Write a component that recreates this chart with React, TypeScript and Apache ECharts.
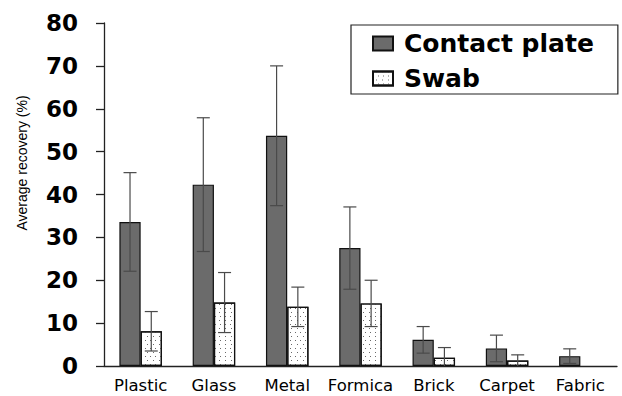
import React, { useEffect, useRef } from "react";
import * as echarts from "echarts";

const categories = ["Plastic", "Glass", "Metal", "Formica", "Brick", "Carpet", "Fabric"];
const contactMeans = [33.6, 42.3, 53.7, 27.5, 6.1, 4.1, 2.3];
const contactSD = [11.5, 15.6, 16.3, 9.6, 3.1, 3.1, 1.7];
const swabMeans: (number | null)[] = [8.1, 14.8, 13.8, 14.6, 1.9, 1.3, null];
const swabSD = [4.6, 7.0, 4.6, 5.4, 2.4, 1.3, 0];
const yTicks = [0, 10, 20, 30, 40, 50, 60, 70, 80];

const BAR_FRAC = 0.29;

function errData(means: (number | null)[], sds: number[]) {
  return means.map((m, i) => {
    const v = m ?? 0;
    return [i, Math.max(0, v - sds[i]), v + sds[i], sds[i]];
  });
}

function makeErrRender(side: number) {
  return (params: any, api: any) => {
    const idx = api.value(0);
    const lo = api.value(1);
    const hi = api.value(2);
    const sd = api.value(3);
    if (!sd) return null;
    const band = api.size([1, 0])[0];
    const bw = band * BAR_FRAC;
    const pHi = api.coord([idx, hi]);
    const pLo = api.coord([idx, lo]);
    const x = pHi[0] + side * bw / 2;
    const cap = 6.5;
    const style = { stroke: "#4a4a4a", lineWidth: 1.2 };
    const children: any[] = [
      { type: "line", shape: { x1: x, y1: pHi[1], x2: x, y2: pLo[1] }, style },
      { type: "line", shape: { x1: x - cap, y1: pHi[1], x2: x + cap, y2: pHi[1] }, style },
    ];
    if (lo > 0.3) {
      children.push({ type: "line", shape: { x1: x - cap, y1: pLo[1], x2: x + cap, y2: pLo[1] }, style });
    }
    return { type: "group", children };
  };
}

export default function App() {
  const ref = useRef<HTMLDivElement>(null);
  useEffect(() => {
    if (!ref.current) return;
    const chart = echarts.init(ref.current, null, { renderer: "svg" });
    const swabDecal = {
      symbol: "rect",
      symbolSize: 1,
      color: "#6a6a6a",
      backgroundColor: "#ffffff",
      dashArrayX: [[1, 4], [0, 2.5, 1, 1.5]],
      dashArrayY: [1, 3],
      rotation: 0,
    };
    chart.setOption({
      animation: false,
      backgroundColor: "#fff",
      grid: { left: 104, right: 5, top: 23, bottom: 30, containLabel: false },
      legend: {
        orient: "vertical",
        left: 351,
        top: 25,
        padding: [6, 24, 3, 21],
        itemGap: 10,
        itemWidth: 20,
        itemHeight: 14,
        borderColor: "#222",
        borderWidth: 1.2,
        borderRadius: 0,
        textStyle: {
          fontFamily: "DejaVu Sans",
          fontWeight: "bold",
          fontSize: 25,
          color: "#000",
          padding: [0, 0, 0, 6],
        },
        data: [
          { name: "Contact plate", icon: "rect" },
          { name: "Swab", icon: "rect" },
        ],
      },
      xAxis: {
        type: "category",
        data: categories,
        axisLine: { lineStyle: { color: "#222", width: 1.3 } },
        axisTick: { length: 5, lineStyle: { color: "#222", width: 1.3 } },
        axisLabel: { interval: 0, margin: 11, fontFamily: "DejaVu Sans", fontSize: 16.5, color: "#000" },
      },
      yAxis: {
        type: "value",
        min: 0,
        max: 80,
        interval: 10,
        axisLine: { show: true, lineStyle: { color: "#222", width: 1.3 } },
        axisTick: { show: true, length: 8, lineStyle: { color: "#222", width: 1.3 } },
        splitLine: { show: false },
        axisLabel: {
          margin: 26,
          fontFamily: "DejaVu Sans",
          fontWeight: "bold",
          fontSize: 23,
          color: "#000",
          formatter: (v: number) => (yTicks.includes(v) ? String(v) : ""),
        },
      },
      graphic: [
        {
          type: "text",
          x: 22,
          y: 163,
          rotation: Math.PI / 2,
          style: {
            text: "Average recovery (%)",
            fontFamily: "Liberation Sans",
            fontSize: 14,
            fill: "#000",
            align: "center",
            verticalAlign: "middle",
          },
        },
      ],
      series: [
        {
          name: "Contact plate",
          type: "bar",
          data: contactMeans,
          barWidth: (BAR_FRAC * 100) + "%",
          barGap: "0%",
          itemStyle: { color: "#6b6b6b", borderColor: "#111", borderWidth: 1.2 },
        },
        {
          name: "Swab",
          type: "bar",
          data: swabMeans,
          barWidth: (BAR_FRAC * 100) + "%",
          barGap: "0%",
          itemStyle: { color: "#ffffff", borderColor: "#111", borderWidth: 1.2, decal: swabDecal },
        },
        {
          name: "errContact",
          type: "custom",
          renderItem: makeErrRender(-1),
          data: errData(contactMeans, contactSD),
          z: 10,
          encode: { x: 0, y: [1, 2] },
        },
        {
          name: "errSwab",
          type: "custom",
          renderItem: makeErrRender(1),
          data: errData(swabMeans, swabSD),
          z: 10,
          encode: { x: 0, y: [1, 2] },
        },
      ],
    });
    return () => chart.dispose();
  }, []);
  return <div ref={ref} style={{ width: 622, height: 396, position: "absolute", left: 0, top: 0 }} />;
}
